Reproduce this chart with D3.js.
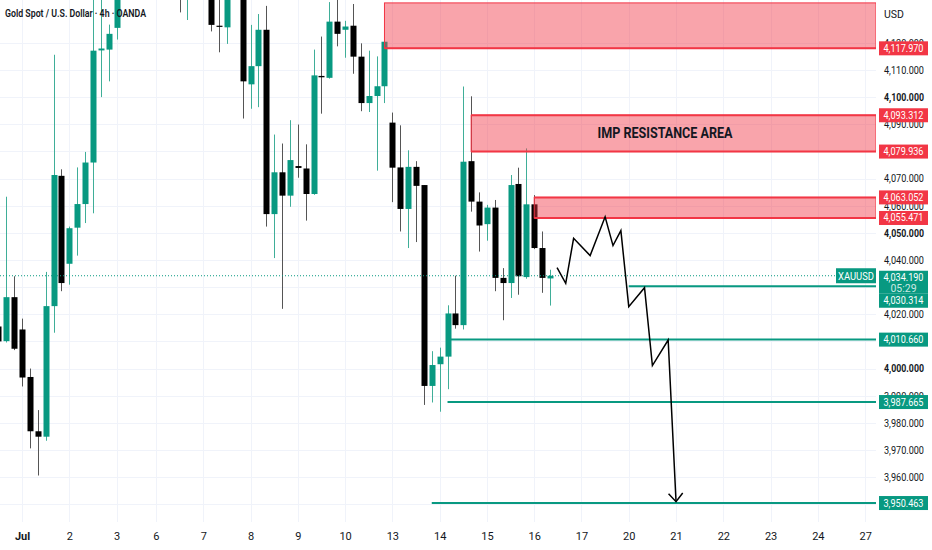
<!DOCTYPE html>
<html>
<head>
<meta charset="utf-8">
<script src="https://cdnjs.cloudflare.com/ajax/libs/d3/7.8.5/d3.min.js"></script>
<style>
  html, body { margin: 0; padding: 0; background: #fff; }
  svg { display: block; font-family: Roboto, "Noto Sans", sans-serif; }
</style>
</head>
<body>
<svg id="chart" width="932" height="550"></svg>
<script>
/* ── Data ────────────────────────────────────────────────────────────── */
// 4h candles, index = bar number from the left edge
const candleIdx = [-1, 0, 1, 2, 3, 4, 5, 6, 7, 8, 9, 10, 11, 12, 13, 14,
  22, 23, 26, 27, 28, 30, 31, 32, 33, 34, 35, 36, 37, 38, 39, 40, 41, 42, 43, 44,
  45, 46, 47, 48, 49, 50, 51, 52, 53, 54, 55, 56, 57, 58, 59, 60, 61, 62, 63, 64,
  65, 66, 67, 68, 69];
const opens = [4015.5, 4010.1, 4026.3, 4014.4, 3996.9, 3976.9, 3974.9, 4023.0, 4071.0, 4038.6, 4051.9, 4060.6, 4075.9, 4117.2, 4117.5, 4125.5,
  4150, 4140, 4150, 4126.3, 4125.7, 4148, 4104.7, 4111.4, 4124.8, 4056.9, 4072.3, 4063.7, 4074.6, 4073.7, 4064.3, 4107.8, 4107.1, 4127.8, 4124.8, 4126.3,
  4114.9, 4097.8, 4100.4, 4104.0, 4090.6, 4074.1, 4058.8, 4074.3, 4067.6, 3993.6, 4001.6, 4004.4, 4020.3, 4016.0, 4076.4, 4061.5, 4053.2, 4059.3, 4033.4, 4031.5,
  4068.0, 4033.7, 4060.5, 4044.4, 4033.2];
const highs = [4017, 4063.3, 4034.0, 4018.4, 4000.0, 3984.7, 4035.6, 4115.6, 4073.4, 4052.3, 4074.1, 4079.8, 4139, 4137, 4126.7, 4150,
  4158, 4160, 4160, 4145, 4155, 4155, 4126.6, 4130.6, 4133.6, 4086.2, 4082.9, 4091.5, 4089.9, 4082.6, 4117.5, 4122.3, 4135, 4137, 4128.1, 4134.3,
  4119.8, 4117.1, 4115.0, 4121.0, 4094.3, 4089.6, 4080.4, 4076.4, 4067.6, 4006.4, 4007.7, 4023.3, 4034.2, 4103.9, 4100.3, 4064.9, 4060.3, 4062.1, 4037.0, 4071.3,
  4074.0, 4081.1, 4063.9, 4050.5, 4036.4];
const lows = [4009, 4009.6, 4006.8, 3993.4, 3970.6, 3960.6, 3973.4, 4013.2, 4028.5, 4030.9, 4041.6, 4053.6, 4057.2, 4100.0, 4105.8, 4121.2,
  4131.2, 4128.4, 4124.2, 4116.5, 4119.6, 4092.1, 4095.7, 4096.3, 4052.3, 4040.7, 4022.0, 4059.6, 4070.3, 4054.5, 4064.0, 4093.9, 4106.8, 4118.7, 4114.5, 4108.6,
  4094.8, 4094.5, 4072.9, 4097.8, 4061.3, 4050.5, 4044.4, 4046.6, 3986.6, 3987.5, 3984.1, 3992.4, 4014.7, 4014.4, 4057.8, 4043.1, 4047.1, 4028.5, 4017.8, 4026.0,
  4027.2, 4033.1, 4044.0, 4027.9, 4023.2];
const closes = [4010.0, 4026.3, 4007.3, 3996.7, 3976.9, 3974.9, 4023.0, 4071.3, 4031.5, 4051.7, 4060.6, 4075.9, 4117.1, 4117.9, 4123.3, 4145,
  4140, 4150, 4126.6, 4125.9, 4148, 4105.8, 4111.4, 4124.8, 4056.9, 4072.3, 4063.7, 4076.8, 4073.9, 4064.3, 4108.0, 4107.3, 4127.8, 4123.3, 4126.0, 4114.9,
  4097.8, 4100.4, 4104.0, 4120.4, 4074.0, 4058.8, 4074.3, 4067.3, 3993.6, 4001.3, 4004.4, 4020.3, 4016.0, 4076.2, 4061.5, 4052.7, 4059.3, 4033.4, 4031.5, 4067.6,
  4034.0, 4060.5, 4044.4, 4033.4, 4034.19];

// time axis
const xTickIdx    = [2, 8, 14, 19, 25, 31, 37, 43, 49, 55, 61, 67, 73, 79, 85, 91, 97, 103, 109];
const xTickLabels = ['Jul', '2', '3', '6', '7', '8', '9', '10', '13', '14', '15', '16', '17', '20', '21', '22', '23', '24', '27'];

// price axis: grid every 10, labels only where the picture shows them
const gridPrices = [3950, 3960, 3970, 3980, 3990, 4000, 4010, 4020, 4030, 4040, 4050, 4060, 4070, 4080, 4090, 4100, 4110, 4120];
const yTicks     = [3960, 3970, 3980, 3990, 4000, 4020, 4040, 4050, 4060, 4070, 4090, 4100, 4110, 4120];

// resistance zones
const zoneStart  = [48, 59, 67];
const zoneTop    = [4134.7, 4093.312, 4063.052];
const zoneBottom = [4117.97, 4079.936, 4055.471];
const zoneText   = ['', 'IMP RESISTANCE AREA', ''];

// support levels
const levelStart = [79, 56.3, 56, 54];
const levelPrice = [4030.314, 4010.66, 3987.665, 3950.463];

// projected path
const pathIdx   = [69.9, 71, 72, 74.1, 76, 77, 78, 79, 81, 82, 84, 85];
const pathPrice = [4037.2, 4031.4, 4048.0, 4041.6, 4055.9, 4045.3, 4050.8, 4022.8, 4029.8, 4001.1, 4010.5, 3950.95];

const lastPrice = 4034.19;
const countdown = '05:29';
const symbol = 'XAUUSD';
const title = 'Gold Spot / U.S. Dollar \u00b7 4h \u00b7 OANDA';

/* ── Layout ──────────────────────────────────────────────────────────── */
const plotR = 876, plotB = 522;
const GREEN = '#089981', RED = '#f23645', TXT = '#131722';

const x = d3.scaleLinear().domain([0, 110]).range([6.24, 6.24 + 7.88 * 110]);
const y = d3.scaleLinear().domain([4000, 4100]).range([368.56, 97.1]);
const bodyW = 6;
const fmtP = d3.format(',.3f');

const svg = d3.select('#chart');
svg.append('defs').append('clipPath').attr('id', 'plot')
  .append('rect').attr('x', 0).attr('y', 0).attr('width', plotR).attr('height', plotB);

/* ── Grid ────────────────────────────────────────────────────────────── */
const grid = svg.append('g');
gridPrices.forEach(t => grid.append('line')
  .attr('x1', 0).attr('x2', plotR).attr('y1', Math.round(y(t)) + 0.5).attr('y2', Math.round(y(t)) + 0.5)
  .attr('stroke', '#f0f3fa'));
xTickIdx.forEach(t => grid.append('line')
  .attr('x1', Math.round(x(t)) + 0.5).attr('x2', Math.round(x(t)) + 0.5).attr('y1', 0).attr('y2', plotB)
  .attr('stroke', '#f0f3fa'));

/* ── Candles ─────────────────────────────────────────────────────────── */
const plot = svg.append('g').attr('clip-path', 'url(#plot)');
const candles = candleIdx.map((i, k) => ({ i, o: opens[k], h: highs[k], l: lows[k], c: closes[k] }));
const cg = plot.append('g').selectAll('g').data(candles).join('g');
cg.append('line')
  .attr('x1', d => Math.round(x(d.i)) + 0.5).attr('x2', d => Math.round(x(d.i)) + 0.5)
  .attr('y1', d => y(d.h)).attr('y2', d => y(d.l))
  .attr('stroke', d => d.c >= d.o ? '#3fae98' : '#555');
cg.append('rect')
  .attr('x', d => Math.round(x(d.i)) + 0.5 - bodyW / 2)
  .attr('width', bodyW)
  .attr('y', d => y(Math.max(d.o, d.c)))
  .attr('height', d => Math.max(1.2, Math.abs(y(d.o) - y(d.c))))
  .attr('fill', d => d.c >= d.o ? GREEN : '#000');

/* ── Last price dotted line ──────────────────────────────────────────── */
plot.append('line')
  .attr('x1', 0).attr('x2', 836).attr('y1', y(lastPrice)).attr('y2', y(lastPrice))
  .attr('stroke', GREEN).attr('stroke-width', 1).attr('stroke-dasharray', '1,2');

/* ── Zones ───────────────────────────────────────────────────────────── */
zoneStart.forEach((s, k) => {
  plot.append('rect')
    .attr('x', x(s)).attr('width', plotR - x(s))
    .attr('y', y(zoneTop[k])).attr('height', y(zoneBottom[k]) - y(zoneTop[k]))
    .attr('fill', RED).attr('fill-opacity', 0.45)
    .attr('stroke', RED).attr('stroke-width', 1);
  // levels that carry an axis label get a heavier edge
  const edges = k === 0 ? [zoneBottom[k]] : [zoneTop[k], zoneBottom[k]];
  edges.forEach(p => plot.append('line')
    .attr('x1', x(s)).attr('x2', plotR).attr('y1', y(p)).attr('y2', y(p))
    .attr('stroke', RED).attr('stroke-width', 2));
  if (zoneText[k]) {
    plot.append('text')
      .attr('x', 665).attr('y', (y(zoneTop[k]) + y(zoneBottom[k])) / 2 + 5)
      .attr('text-anchor', 'middle').attr('font-size', 15).attr('font-weight', 700)
      .attr('fill', TXT).attr('textLength', 135).attr('lengthAdjust', 'spacingAndGlyphs')
      .text(zoneText[k]);
  }
});

/* ── Support levels ──────────────────────────────────────────────────── */
levelStart.forEach((s, k) => plot.append('line')
  .attr('x1', x(s)).attr('x2', plotR).attr('y1', y(levelPrice[k])).attr('y2', y(levelPrice[k]))
  .attr('stroke', GREEN).attr('stroke-width', 2));

/* ── Projected path ──────────────────────────────────────────────────── */
const pts = pathIdx.map((i, k) => [x(i), y(pathPrice[k])]);
plot.append('path').attr('d', d3.line()(pts))
  .attr('fill', 'none').attr('stroke', '#000').attr('stroke-width', 1.5).attr('stroke-linejoin', 'miter');
{
  const [x1, y1] = pts[pts.length - 2], [x2, y2] = pts[pts.length - 1];
  const a = Math.atan2(y2 - y1, x2 - x1), len = 11, spread = 0.7;
  const head = [[x2 - len * Math.cos(a - spread), y2 - len * Math.sin(a - spread)], [x2, y2],
                [x2 - len * Math.cos(a + spread), y2 - len * Math.sin(a + spread)]];
  plot.append('path').attr('d', d3.line()(head))
    .attr('fill', 'none').attr('stroke', '#000').attr('stroke-width', 1.5);
}

/* ── Title ───────────────────────────────────────────────────────────── */
svg.append('text').attr('x', 5).attr('y', 17)
  .attr('font-size', 11).attr('font-weight', 600).attr('fill', TXT)
  .attr('textLength', 141).attr('lengthAdjust', 'spacingAndGlyphs')
  .text(title);

/* ── Axes ────────────────────────────────────────────────────────────── */
const yAxis = svg.append('g').attr('transform', `translate(884,0)`)
  .call(d3.axisRight(y).tickValues(yTicks).tickSize(0).tickPadding(0).tickFormat(fmtP));
yAxis.select('.domain').remove();
yAxis.selectAll('text')
  .attr('font-size', 10.5).attr('fill', TXT).attr('font-family', 'Roboto, sans-serif')
  .attr('font-weight', d => d % 50 === 0 ? 700 : 400)
  .attr('textLength', 40).attr('lengthAdjust', 'spacingAndGlyphs');

svg.append('text').attr('x', 884).attr('y', 18).attr('font-size', 10.5).attr('fill', TXT).text('USD');

const xAxis = svg.append('g').attr('transform', `translate(0,${plotB})`)
  .call(d3.axisBottom(x).tickValues(xTickIdx).tickSize(0).tickPadding(10)
    .tickFormat((d, k) => xTickLabels[k]));
xAxis.select('.domain').remove();
xAxis.selectAll('text')
  .attr('font-size', 11).attr('fill', TXT).attr('font-family', 'Roboto, sans-serif')
  .attr('font-weight', (d, k) => xTickLabels[k] === 'Jul' ? 700 : 400);

/* ── Price labels on the axis ────────────────────────────────────────── */
const boxX = 879, boxW = 49, boxH = 14;
function priceBox(top, h, fill, lines) {
  svg.append('rect').attr('x', boxX).attr('y', top).attr('width', boxW).attr('height', h).attr('fill', fill);
  lines.forEach((ln, k) => svg.append('text')
    .attr('x', boxX + boxW / 2).attr('y', top + 10.5 + k * 11)
    .attr('text-anchor', 'middle').attr('font-size', 10.5)
    .attr('fill', '#fff').attr('fill-opacity', ln.dim ? 0.8 : 1)
    .attr('textLength', ln.dim ? null : 40).attr('lengthAdjust', 'spacingAndGlyphs')
    .text(ln.t));
}
[...zoneTop.slice(1), ...zoneBottom].forEach(p => priceBox(y(p) - boxH / 2, boxH, RED, [{ t: fmtP(p) }]));

// last price + countdown, then the nearby level pushed under it
const lpTop = y(lastPrice) - 5;
priceBox(lpTop, 23, GREEN, [{ t: fmtP(lastPrice) }, { t: countdown, dim: true }]);
priceBox(lpTop + 23, boxH, GREEN, [{ t: fmtP(levelPrice[0]) }]);
levelPrice.slice(1).forEach(p => priceBox(y(p) - boxH / 2, boxH, GREEN, [{ t: fmtP(p) }]));

// symbol tag
svg.append('rect').attr('x', 836).attr('y', y(lastPrice) - 7.5).attr('width', 40).attr('height', 15).attr('fill', GREEN);
svg.append('text').attr('x', 856).attr('y', y(lastPrice) + 4)
  .attr('text-anchor', 'middle').attr('font-size', 10.5).attr('fill', '#fff')
  .attr('textLength', 36).attr('lengthAdjust', 'spacingAndGlyphs').text(symbol);
</script>
</body>
</html>
